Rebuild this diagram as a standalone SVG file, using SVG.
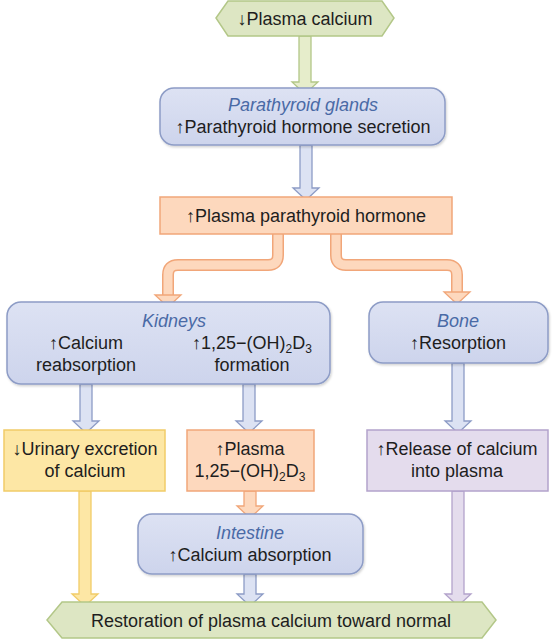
<svg xmlns="http://www.w3.org/2000/svg" width="556" height="640" viewBox="0 0 556 640">
<style>
text{font-family:"Liberation Sans",Arial,sans-serif;font-size:18px;fill:#1e1e1e;text-anchor:middle}
.it{font-style:italic;fill:#4a6aa6}
.sub{font-size:12px}
.green{fill:#dde6c3;stroke:#b3c788;stroke-width:1.5}
.blue{fill:url(#gb);stroke:#8d9cc6;stroke-width:1.5}
.orange{fill:#fdd8bd;stroke:#f1a679;stroke-width:1.5}
.yellow{fill:#fde7a5;stroke:#f1cc68;stroke-width:1.5}
.purple{fill:#e4dced;stroke:#b3a3cb;stroke-width:1.5}
.ag{fill:#e6edcb;stroke:#b3c788;stroke-width:1.3}
.ab{fill:#dce2f3;stroke:#8d9cc6;stroke-width:1.3}
.ao{fill:#fdd8bd;stroke:#f1a679;stroke-width:1.3}
.ay{fill:#fde7a5;stroke:#f1cc68;stroke-width:1.3}
.ap{fill:#e4dced;stroke:#b3a3cb;stroke-width:1.3}
.box{filter:url(#sh)}
</style>
<defs>
<linearGradient id="gb" x1="0" y1="0" x2="0" y2="1">
<stop offset="0" stop-color="#dde2f3"/>
<stop offset="1" stop-color="#cdd4ec"/>
</linearGradient>
<filter id="sh" x="-5%" y="-5%" width="110%" height="120%">
<feDropShadow dx="1" dy="1.5" stdDeviation="1.2" flood-color="#000" flood-opacity="0.18"/>
</filter>
</defs>

<g id="connectors">
<path class="ag" d="M299 36V82H292L305 94L318 82H311V36Z"/>
<path class="ab" d="M300 145V188H293L306 200L319 188H312V145Z"/>
<path d="M278 234V255Q278 265 268 265H178Q168 265 168 275V296" fill="none" stroke="#f1a679" stroke-width="12"/>
<path d="M278 234V255Q278 265 268 265H178Q168 265 168 275V296" fill="none" stroke="#fdd8bd" stroke-width="9"/>
<path class="ao" d="M161 295H155L168 307L181 295H175Z"/>
<path d="M336 234V255Q336 265 346 265H447Q457 265 457 275V293" fill="none" stroke="#f1a679" stroke-width="12"/>
<path d="M336 234V255Q336 265 346 265H447Q457 265 457 275V293" fill="none" stroke="#fdd8bd" stroke-width="9"/>
<path class="ao" d="M450 292H444L457 304L470 292H464Z"/>
<path class="ab" d="M80 384V421H73L86 433L99 421H92V384Z"/>
<path class="ab" d="M243 384V421H236L249 433L262 421H255V384Z"/>
<path class="ab" d="M452 363V421H445L458 433L471 421H464V363Z"/>
<path class="ao" d="M244 491V506H237L250 518L263 506H256V491Z"/>
<path class="ay" d="M79 491V594H72L85 606L98 594H91V491Z"/>
<path class="ab" d="M244 574V594H237L250 606L263 594H256V574Z"/>
<path class="ap" d="M452 491V594H445L458 606L471 594H464V491Z"/>
</g>

<g id="plasma-calcium-low">
<polygon class="green" points="216,18 228,1 382,1 394,18 382,36 228,36"/>
<text x="305" y="25">↓Plasma calcium</text>
</g>

<g id="parathyroid-glands">
<rect class="blue box" x="160" y="88" width="285" height="57" rx="14"/>
<text class="it" x="303" y="111">Parathyroid glands</text>
<text x="303" y="133">↑Parathyroid hormone secretion</text>
</g>

<g id="plasma-pth">
<rect class="orange" x="160" y="197" width="292" height="37"/>
<text x="306" y="222">↑Plasma parathyroid hormone</text>
</g>

<g id="kidneys">
<rect class="blue box" x="7" y="302" width="323" height="82" rx="14"/>
<text class="it" x="174" y="327">Kidneys</text>
<text x="86" y="349">↑Calcium</text>
<text x="86" y="371">reabsorption</text>
<text x="252" y="349">↑1,25−(OH)<tspan class="sub" dy="4">2</tspan><tspan dy="-4">D</tspan><tspan class="sub" dy="4">3</tspan></text>
<text x="252" y="371">formation</text>
</g>

<g id="bone">
<rect class="blue box" x="369" y="302" width="179" height="61" rx="14"/>
<text class="it" x="458" y="327">Bone</text>
<text x="458" y="349">↑Resorption</text>
</g>

<g id="urinary">
<rect class="yellow" x="4" y="430" width="161" height="61"/>
<text x="85" y="455">↓Urinary excretion</text>
<text x="85" y="477">of calcium</text>
</g>

<g id="plasma-d3">
<rect class="orange" x="187" y="430" width="127" height="61"/>
<text x="250" y="455">↑Plasma</text>
<text x="250" y="477">1,25−(OH)<tspan class="sub" dy="4">2</tspan><tspan dy="-4">D</tspan><tspan class="sub" dy="4">3</tspan></text>
</g>

<g id="release">
<rect class="purple" x="367" y="430" width="181" height="61"/>
<text x="457" y="455">↑Release of calcium</text>
<text x="457" y="477">into plasma</text>
</g>

<g id="intestine">
<rect class="blue box" x="138" y="514" width="225" height="60" rx="14"/>
<text class="it" x="250" y="539">Intestine</text>
<text x="250" y="561">↑Calcium absorption</text>
</g>

<g id="restoration">
<polygon class="green" points="47,620 62,602 482,602 496,620 482,638 62,638"/>
<text x="271" y="627">Restoration of plasma calcium toward normal</text>
</g>
</svg>
